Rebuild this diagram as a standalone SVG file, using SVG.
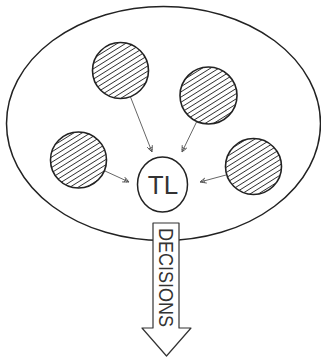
<svg xmlns="http://www.w3.org/2000/svg" width="321" height="357" viewBox="0 0 321 357">
<defs>
<pattern id="hatch" patternUnits="userSpaceOnUse" width="4.4" height="4.4" patternTransform="rotate(-32)">
<line x1="0" y1="2.2" x2="4.4" y2="2.2" stroke="#333" stroke-width="0.9"/>
</pattern>
<marker id="ah" viewBox="0 0 10 10" refX="9" refY="5" markerWidth="7" markerHeight="7" orient="auto" markerUnits="userSpaceOnUse">
<path d="M0,1 L9,5 L0,9 M3,2 L3,8 M6,3 L6,7" fill="none" stroke="#555" stroke-width="1.2"/>
</marker>
<style>
.member{fill:url(#hatch);stroke:#222;stroke-width:1.6}
.conn{stroke:#666;stroke-width:1;fill:none}
.lbl{font-family:"Liberation Sans",Arial,sans-serif;fill:#333}
</style>
</defs>
<rect width="321" height="357" fill="#fff"/>
<g id="team">
<ellipse cx="163.5" cy="123.5" rx="157" ry="117" fill="none" stroke="#222" stroke-width="1.5"/>
</g>
<g id="connectors">
<line class="conn" x1="130.5" y1="97" x2="152" y2="152" marker-end="url(#ah)"/>
<line class="conn" x1="197" y1="121" x2="182" y2="152" marker-end="url(#ah)"/>
<line class="conn" x1="105" y1="171" x2="129" y2="182" marker-end="url(#ah)"/>
<line class="conn" x1="226" y1="175" x2="200" y2="182" marker-end="url(#ah)"/>
</g>
<g id="m1"><circle class="member" cx="120.5" cy="70.5" r="28"/></g>
<g id="m2"><circle class="member" cx="208.5" cy="95.5" r="28.5"/></g>
<g id="m3"><circle class="member" cx="78.5" cy="160" r="28"/></g>
<g id="m4"><circle class="member" cx="253.5" cy="166.5" r="28"/></g>
<g id="tl">
<ellipse cx="162.5" cy="184.5" rx="25" ry="27.5" fill="#fff" stroke="#222" stroke-width="1.5"/>
<text class="lbl" x="163" y="194" font-size="26" text-anchor="middle" fill="#444">TL</text>
</g>
<g id="decisions">
<polygon points="153,223 179,223 179,328 191,328 166.5,356 142,328 153,328" fill="#fff" stroke="#333" stroke-width="1.2" stroke-linejoin="round"/>
<text class="lbl" transform="translate(159,228) rotate(90)" font-size="20" textLength="99" lengthAdjust="spacingAndGlyphs">DECISIONS</text>
</g>
</svg>
